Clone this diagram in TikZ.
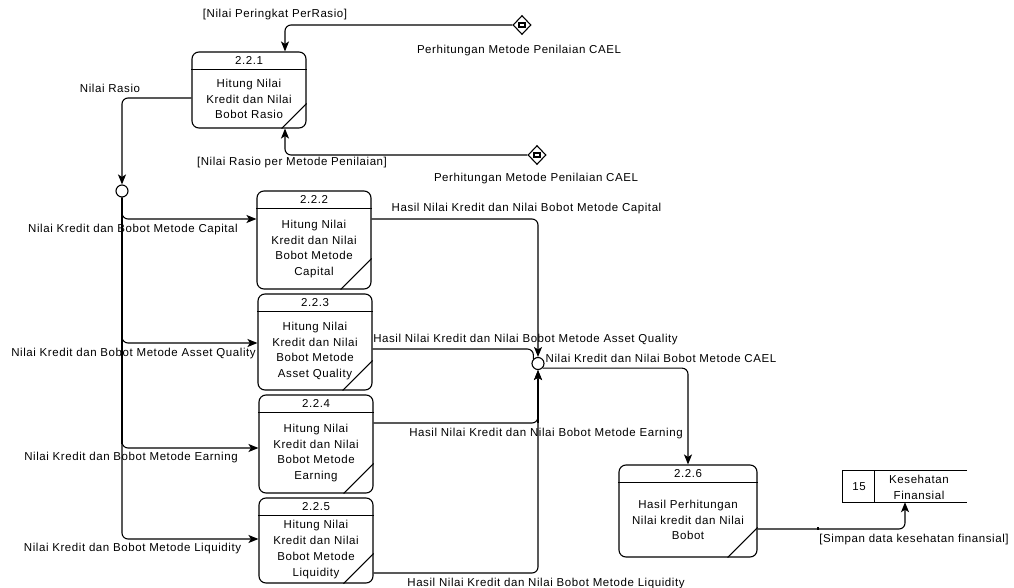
\documentclass[tikz,border=0pt]{standalone}
\usepackage{fontspec}
\setmainfont{Liberation Sans}[LetterSpace=5]
\usetikzlibrary{arrows.meta,shapes.geometric,calc}

\tikzset{
  txt/.style={font=\fontsize{11.5}{15.8}\selectfont, inner sep=0pt, align=center},
  proc/.style={draw, rounded corners=7pt, line width=1.1pt, inner sep=0pt},
  thin/.style={line width=1.1pt},
  flow/.style={draw, line width=1.1pt, rounded corners=6pt,
    -{Stealth[length=10pt,width=8pt,inset=2.5pt]}},
  plain/.style={draw, line width=1.1pt, rounded corners=6pt},
  junction/.style={circle, draw, fill=white, line width=1.1pt,
    minimum size=12pt, inner sep=0pt},
  source/.style={diamond, draw, fill=white, line width=1.1pt,
    minimum width=18pt, minimum height=19pt, inner sep=0pt},
}

% process box: name, x1, y1, x2, y2, number, body text, corner cut
\newcommand\procbox[8]{%
  \node[proc, minimum width={#4-#2}, minimum height={#5-#3}]
    (#1) at ({(#2+#4)/2},{(#3+#5)/2}) {};
  \draw[thin] ($(#1.north west)+(0,18)$) -- ($(#1.north east)+(0,18)$);
  \node[txt] (#1id) at ($(#1.north)+(0,9.5)$) {#6};
  \node[txt] (#1body) at ($(#1.center)+(0,9)$) {#7};
  \draw[thin] ($(#1.south east)+(-#8,0)$) -- ($(#1.south east)+(0,-#8)$);
}

\begin{document}
\begin{tikzpicture}[x=1pt,y=-1pt]
  \useasboundingbox (0,0) rectangle (1014,588);
  \fill[white] (0,0) rectangle (1014,588);

  % processes
  \procbox{p221}{192}{52}{306}{128}{2.2.1}{Hitung Nilai\\Kredit dan Nilai\\Bobot Rasio}{25}
  \procbox{p222}{257}{191}{371}{289}{2.2.2}{Hitung Nilai\\Kredit dan Nilai\\Bobot Metode\\Capital}{31}
  \procbox{p223}{258}{294}{372}{390}{2.2.3}{Hitung Nilai\\Kredit dan Nilai\\Bobot Metode\\Asset Quality}{30}
  \procbox{p224}{259}{395}{373}{493}{2.2.4}{Hitung Nilai\\Kredit dan Nilai\\Bobot Metode\\Earning}{30}
  \procbox{p225}{259}{498}{373}{583}{2.2.5}{Hitung Nilai\\Kredit dan Nilai\\Bobot Metode\\Liquidity}{30}
  \procbox{p226}{619}{465}{757}{557}{2.2.6}{Hasil Perhitungan\\Nilai kredit dan Nilai\\Bobot}{30}

  % external references
  \node[source] (d1) at (522,25) {};
  \draw[thin] ($(d1.center)+(-3,-2)$) rectangle ($(d1.center)+(3,2)$);
  \node[source] (d2) at (537,155) {};
  \draw[thin] ($(d2.center)+(-3,-2)$) rectangle ($(d2.center)+(3,2)$);

  % junctions
  \node[junction] (c1) at (122,191) {};
  \node[junction] (c2) at (538,363.5) {};

  % data store
  \node[minimum width=124pt, minimum height=31pt, inner sep=0pt] (st) at (905,486.5) {};
  \draw[thin] (st.north east) -- (st.north west) -- (st.south west) -- (st.south east);
  \draw[thin] ($(st.north west)+(32,0)$) -- ($(st.south west)+(32,0)$);
  \node[txt] (stid) at (859,487) {15};
  \node[txt] (stname) at (919,487) {Kesehatan\\Finansial};

  % flows around 2.2.1
  \draw[flow] (d1.west) -| ([xshift=36pt]p221.north);
  \draw[flow] (d2.west) -| ([xshift=36pt]p221.south);
  \draw[flow] ([yshift=-8pt]p221.west) -| (c1.north);

  % distribution bus
  \draw[line width=2.4pt] (c1.south) -- (c1.south |- p224.west);
  \draw[flow] (c1.south) |- ([yshift=21pt]p222.west);
  \draw[flow] (c1.south) |- ([yshift=-1pt]p223.west);
  \draw[flow] (c1.south) |- ([yshift=-4pt]p224.west);
  \draw[flow] (c1.south) |- ([yshift=1.5pt]p225.west);

  % results collected in the second junction
  \draw[line width=2.2pt] ($(c2.south)+(0,9)$) -- ($(c2.south)+(0,53)$);
  \draw[flow] ([yshift=21pt]p222.east) -| (c2.north);
  \draw[plain] ([yshift=-7pt]p223.east) -| (c2.north west);
  \draw[flow] ([yshift=21pt]p224.east) -| (c2.south);
  \draw[flow] ([yshift=-32.5pt]p225.east) -| (c2.south);

  % totals and storage
  \draw[flow] (c2.south east) -| (p226.north);
  \draw[flow] ([yshift=-18pt]p226.east) -| (st.south);
  \draw[thin] (818,527) -- (818,530);

  % labels
  \node[txt] (l1) at (275,15) {[Nilai Peringkat PerRasio]};
  \node[txt] (l2) at (519,51) {Perhitungan Metode Penilaian CAEL};
  \node[txt] (l3) at (292,163) {[Nilai Rasio per Metode Penilaian]};
  \node[txt] (l4) at (536,179) {Perhitungan Metode Penilaian CAEL};
  \node[txt] (l5) at (110,88) {Nilai Rasio};
  \node[txt] (l6) at (133,230) {Nilai Kredit dan Bobot Metode Capital};
  \node[txt] (l7) at (133.5,354) {Nilai Kredit dan Bobot Metode Asset Quality};
  \node[txt] (l8) at (131,458) {Nilai Kredit dan Bobot Metode Earning};
  \node[txt] (l9) at (132.5,549) {Nilai Kredit dan Bobot Metode Liquidity};
  \node[txt] (l10) at (526.5,209) {Hasil Nilai Kredit dan Nilai Bobot Metode Capital};
  \node[txt] (l11) at (525.5,340) {Hasil Nilai Kredit dan Nilai Bobot Metode Asset Quality};
  \node[txt] (l12) at (546,434) {Hasil Nilai Kredit dan Nilai Bobot Metode Earning};
  \node[txt] (l13) at (546,584) {Hasil Nilai Kredit dan Nilai Bobot Metode Liquidity};
  \node[txt] (l14) at (661,358) {Nilai Kredit dan Nilai Bobot Metode CAEL};
  \node[txt] (l15) at (914,540) {[Simpan data kesehatan finansial]};
\end{tikzpicture}
\end{document}
